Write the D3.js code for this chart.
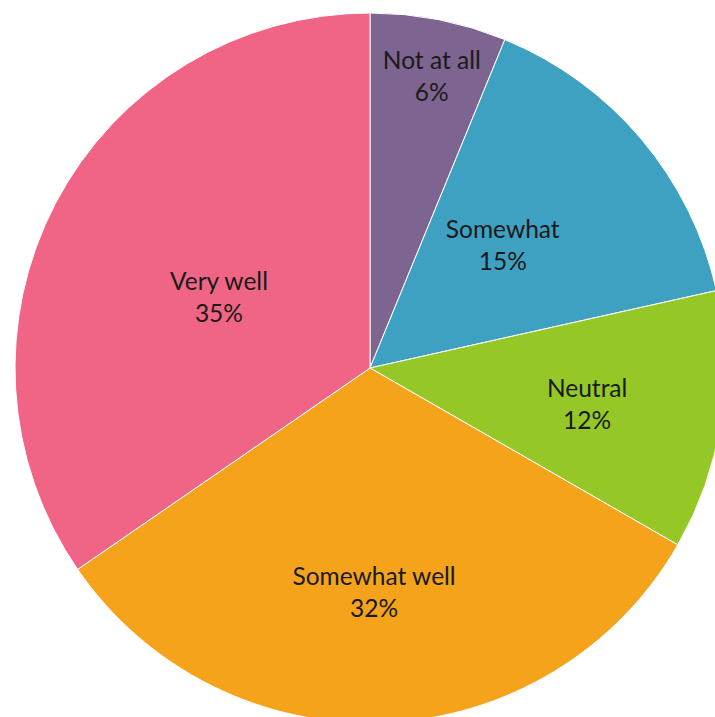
<!DOCTYPE html>
<html>
<head>
<meta charset="utf-8">
<script src="https://cdn.jsdelivr.net/npm/d3@7"></script>
<style>
  html, body { margin: 0; padding: 0; background: #ffffff; }
  svg { display: block; }
</style>
</head>
<body>
<svg id="chart" width="715" height="717"></svg>
<script>
// Data
const categories = ["Not at all", "Somewhat", "Neutral", "Somewhat well", "Very well"];
const values = [6.2, 15.3, 11.8, 32.1, 34.6];
const labels = ["6%", "15%", "12%", "32%", "35%"];

// Styles
const colors = ["#7E6491", "#3EA1C2", "#95C826", "#F5A31A", "#F06585"];
const labelRadiusFrac = [0.84, 0.51, 0.62, 0.63, 0.47];
const labelAngleShiftDeg = [0.8, -2.7, 0.8, 1.3, -2.6];

const width = 715, height = 717;
const cx = 370, cy = 368, r = 355;

const svg = d3.select("#chart");
const g = svg.append("g").attr("transform", `translate(${cx},${cy})`);

const data = categories.map((c, i) => ({ name: c, value: values[i], label: labels[i], i }));

const pie = d3.pie().value(d => d.value).sort(null);
const arcs = pie(data);
const arc = d3.arc().innerRadius(0).outerRadius(r);

g.selectAll("path")
  .data(arcs)
  .join("path")
  .attr("d", arc)
  .attr("fill", d => colors[d.data.i])
  .attr("stroke", "#ffffff")
  .attr("stroke-width", 1);

const lineH = 32;
arcs.forEach(a => {
  const lr = r * labelRadiusFrac[a.data.i];
  const ang = (a.startAngle + a.endAngle) / 2 + labelAngleShiftDeg[a.data.i] * Math.PI / 180;
  const x = lr * Math.sin(ang), y = -lr * Math.cos(ang);
  const t = g.append("text")
    .attr("text-anchor", "middle")
    .attr("font-family", "Lato, 'Open Sans', sans-serif")
    .attr("font-size", 24.5)
    .attr("fill", "#1a1a1a");
  t.append("tspan").attr("x", x).attr("y", y - lineH / 2 + 9).text(a.data.name);
  t.append("tspan").attr("x", x).attr("y", y + lineH / 2 + 9).text(a.data.label);
});
</script>
</body>
</html>
